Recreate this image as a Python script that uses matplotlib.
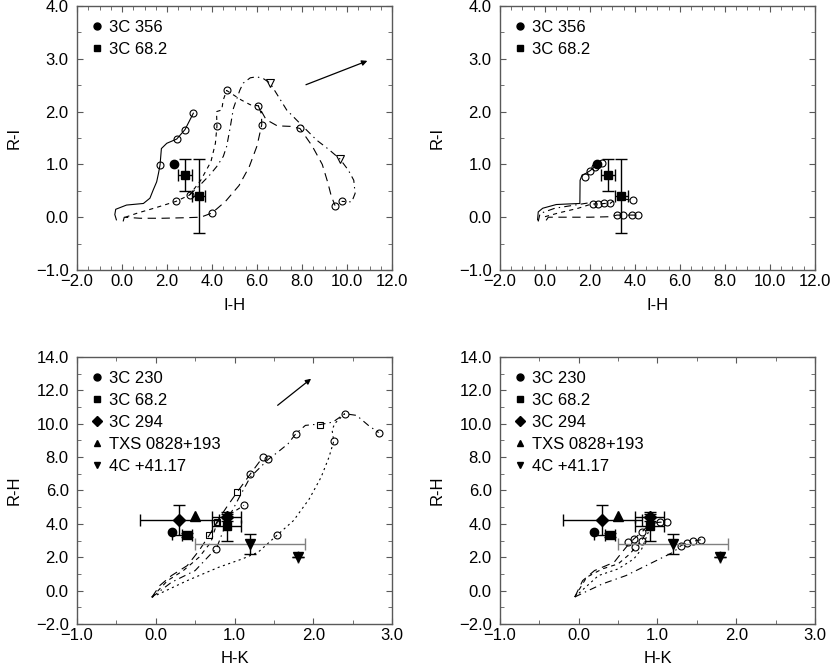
import matplotlib
matplotlib.use('Agg')
import matplotlib.pyplot as plt
from matplotlib.lines import Line2D
from matplotlib.ticker import MultipleLocator, FuncFormatter

plt.rcParams['font.family'] = ['Liberation Sans', 'DejaVu Sans']
plt.rcParams['font.size'] = 12
plt.rcParams['lines.scale_dashes'] = False

# ---------------- top panels: R-I against I-H ----------------
src356_ih = [2.3]
src356_ri = [1.0]
src682_ih = [2.8, 3.4]
src682_ri = [0.8, 0.4]
src682_ih_err = [0.33, 0.28]
src682_ri_err = [0.3, 0.7]

# model tracks, left panel
tl_solid_x = [-0.25, -0.32, -0.28, 0.2, 0.95, 1.24, 1.39, 1.54, 1.62, 1.69, 1.75, 1.99, 2.43, 2.8, 3.17]
tl_solid_y = [-0.05, 0.05, 0.15, 0.23, 0.26, 0.36, 0.52, 0.67, 0.83, 0.99, 1.30, 1.40, 1.48, 1.66, 1.97]
tl_short_x = [0.15, 0.7, 1.5, 2.4, 3.0, 3.5, 3.95, 4.15, 4.22, 4.2, 4.43, 4.5, 4.65, 5.3, 5.7, 6.06]
tl_short_y = [0.0, 0.08, 0.18, 0.3, 0.42, 0.7, 1.05, 1.4, 1.73, 2.0, 2.03, 2.22, 2.4, 2.22, 2.13, 2.11]
tl_long_x = [0.05, 0.1, 0.8, 1.8, 2.8, 3.5, 4.0, 4.6, 5.2, 5.65, 6.0, 6.21, 6.2, 6.06, 6.4, 6.9, 7.5, 7.91, 8.45, 8.9, 9.15, 9.3, 9.47]
tl_long_y = [-0.08, 0.0, -0.02, -0.02, -0.01, 0.0, 0.08, 0.3, 0.6, 0.95, 1.35, 1.75, 1.95, 2.11, 1.85, 1.73, 1.72, 1.68, 1.35, 1.0, 0.65, 0.4, 0.22]
tl_dashdot_x = [3.0, 3.47, 3.9, 4.21, 4.5, 4.65, 4.8, 4.95, 5.24, 5.39, 5.7, 5.99, 6.3, 6.58, 7.32, 7.9, 8.65, 9.2, 9.69, 10.06, 10.3, 10.36, 10.21, 9.76]
tl_dashdot_y = [0.42, 0.61, 0.8, 0.96, 1.15, 1.34, 1.68, 2.06, 2.41, 2.54, 2.64, 2.66, 2.62, 2.54, 2.03, 1.78, 1.46, 1.28, 1.1, 0.89, 0.7, 0.45, 0.29, 0.3]
tl_circ_x = [1.69, 2.43, 2.8, 3.17, 2.4, 3.0, 4.22, 4.65, 6.06, 4.0, 6.21, 7.91, 9.47, 9.76]
tl_circ_y = [0.99, 1.48, 1.66, 1.97, 0.3, 0.42, 1.73, 2.4, 2.11, 0.08, 1.75, 1.68, 0.22, 0.3]
tl_tri_x = [6.58, 9.69]
tl_tri_y = [2.54, 1.1]
tl_arrow = [(8.06, 2.49), (11.02, 2.98)]

# model tracks, right panel
tr_solid_x = [-0.33, -0.3, -0.1, 0.5, 1.0, 1.55, 1.56, 1.65, 1.78, 2.0, 2.22, 2.45]
tr_solid_y = [-0.05, 0.1, 0.17, 0.24, 0.25, 0.26, 0.70, 0.8, 0.82, 0.88, 0.96, 1.03]
tr_short_x = [0.0, 0.6, 1.48, 2.07, 2.15, 2.37, 2.64, 2.89, 3.11, 3.5, 3.93]
tr_short_y = [0.01, 0.08, 0.17, 0.25, 0.25, 0.25, 0.26, 0.26, 0.33, 0.34, 0.33]
tr_long_x = [0.05, 0.15, 1.0, 2.0, 2.96, 3.19, 3.48, 3.85, 4.15]
tr_long_y = [-0.06, 0.0, 0.0, 0.0, 0.01, 0.04, 0.04, 0.04, 0.04]
tr_dot_x = [-0.3, -0.22, 0.44, 1.33, 2.07]
tr_dot_y = [-0.08, 0.07, 0.17, 0.23, 0.28]
tr_circ_x = [1.78, 2.0, 2.22, 2.55, 2.15, 2.37, 2.64, 2.89, 3.93, 3.19, 3.48, 3.85, 4.15]
tr_circ_y = [0.77, 0.88, 0.96, 1.02, 0.25, 0.25, 0.26, 0.26, 0.33, 0.04, 0.04, 0.04, 0.04]

# ---------------- bottom panels: R-H against H-K ----------------
src230_hk = [0.2]
src230_rh = [3.5]
src230_rh_err = [0.45]
srcb682_hk = [0.4, 0.9]
srcb682_rh = [3.35, 3.85]
srcb682_hk_err = [0.065, 0.18]
srcb682_rh_err = [0.12, 0.85]
src294_hk = [0.3, 0.9]
src294_rh = [4.25, 4.4]
src294_hk_err = [0.5, 0.18]
src294_rh_err = [0.9, 0.2]
txs_hk = [0.5]
txs_rh = [4.45]
src4c_hk = [1.2, 1.8]
src4c_rh = [2.8, 2.0]
src4c_hk_err = [0.7, 0.0]
src4c_rh_err = [0.6, 0.0]

bl_t1_x = [-0.05, 0.05, 0.2, 0.4, 0.55, 0.68, 0.8, 0.9, 1.03, 1.2, 1.36]
bl_t1_y = [-0.4, 0.3, 0.9, 1.5, 2.4, 3.32, 4.3, 5.0, 5.88, 6.98, 8.0]
bl_t2_x = [-0.05, 0.15, 0.35, 0.55, 0.7, 0.78, 0.95, 1.12]
bl_t2_y = [-0.4, 0.6, 1.2, 2.0, 2.9, 4.1, 4.6, 5.11]
bl_t3_x = [-0.05, 0.2, 0.5, 0.6, 0.7, 0.77, 0.85, 0.95, 1.05, 1.2, 1.43, 1.55, 1.68, 1.78, 1.9, 2.0, 2.09, 2.25, 2.4, 2.55, 2.7, 2.83]
bl_t3_y = [-0.4, 0.5, 1.2, 1.7, 2.2, 2.52, 3.5, 4.6, 5.5, 6.8, 7.87, 8.3, 8.8, 9.41, 9.9, 9.95, 9.95, 10.1, 10.6, 10.5, 9.9, 9.47]
bl_t4_x = [-0.05, 0.4, 0.8, 1.1, 1.3, 1.54, 1.75, 1.95, 2.1, 2.2, 2.26, 2.24, 2.27, 2.4]
bl_t4_y = [-0.4, 0.6, 1.4, 1.9, 2.3, 3.32, 4.2, 5.5, 6.8, 8.0, 8.95, 9.6, 10.0, 10.6]
bl_circ_x = [1.2, 1.36, 1.43, 1.78, 2.4, 2.83, 2.26, 1.54, 0.77, 1.12]
bl_circ_y = [6.98, 8.0, 7.87, 9.41, 10.6, 9.47, 8.95, 3.32, 2.52, 5.11]
bl_sq_x = [0.68, 1.03, 2.09, 0.78]
bl_sq_y = [3.32, 5.88, 9.95, 4.1]
bl_arrow = [(1.52, 11.0), (2.0, 12.8)]

br_t1_x = [-0.05, 0.05, 0.2, 0.45, 0.55, 0.62, 0.7, 0.8, 0.9, 1.03, 1.12]
br_t1_y = [-0.38, 0.6, 1.2, 1.7, 2.3, 2.7, 3.1, 3.5, 4.0, 4.1, 4.1]
br_t2_x = [-0.05, 0.3, 0.6, 0.9, 1.2, 1.3, 1.38, 1.45, 1.55]
br_t2_y = [-0.38, 0.4, 0.9, 1.6, 2.3, 2.7, 2.85, 2.95, 3.05]
br_t3_x = [-0.05, 0.1, 0.3, 0.5, 0.65, 0.72, 0.8, 0.85]
br_t3_y = [-0.38, 0.8, 1.3, 1.6, 2.2, 2.6, 3.0, 3.4]
br_t4_x = [-0.05, 0.25, 0.5, 0.7, 0.8, 0.85, 0.9]
br_t4_y = [-0.38, 0.9, 1.3, 1.9, 2.5, 3.1, 3.7]
br_circ_x = [0.7, 0.8, 1.03, 1.12, 1.3, 1.38, 1.45, 1.55, 0.72, 0.8, 0.62]
br_circ_y = [3.1, 3.5, 4.1, 4.1, 2.7, 2.85, 2.95, 3.05, 2.6, 3.0, 2.9]

fig = plt.figure(figsize=(8.3, 6.67), dpi=100)
w = 0.3795
ax_tl = fig.add_axes([0.0928, 0.5952, w, 0.3958])
ax_tr = fig.add_axes([0.6024, 0.5952, w, 0.3958])
ax_bl = fig.add_axes([0.0928, 0.0645, w, 0.4003])
ax_br = fig.add_axes([0.6024, 0.0645, w, 0.4003])

fmt = FuncFormatter(lambda v, p: f'{v:.1f}'.replace('-', '\u2212'))
DASH_LONG = (0, (6, 4))
DASH_SHORT = (0, (3, 3))
DASH_DOT = (0, (5, 3, 1, 3))
DOTTED = (0, (1.5, 2.5))


def style(ax, xlim, ylim, xmaj, xmin, ymaj, xlabel, ylabel):
    ax.set_xlim(*xlim)
    ax.set_ylim(*ylim)
    ax.xaxis.set_major_locator(MultipleLocator(xmaj))
    ax.xaxis.set_minor_locator(MultipleLocator(xmin))
    ax.yaxis.set_major_locator(MultipleLocator(ymaj))
    ax.yaxis.set_minor_locator(MultipleLocator(ymaj / 2))
    ax.xaxis.set_major_formatter(fmt)
    ax.yaxis.set_major_formatter(fmt)
    ax.tick_params(which='both', direction='in', top=True, right=True, color='0.35')
    ax.tick_params(which='major', length=4.5)
    ax.tick_params(which='minor', length=3)
    ax.tick_params(axis='x', pad=3)
    ax.tick_params(axis='y', pad=6)
    for s in ax.spines.values():
        s.set_color('0.35')
        s.set_linewidth(1.0)
    ax.set_xlabel(xlabel, labelpad=6)
    ax.set_ylabel(ylabel, labelpad=10)


def tracks(ax, lines, circ, lw=0.8):
    for (x, y), ls in lines:
        ax.plot(x, y, color='k', lw=lw, ls=ls)
    ax.plot(circ[0], circ[1], ls='none', marker='o', ms=5, mfc='none', mec='k', mew=0.8)


def legend(ax, entries):
    handles = [Line2D([], [], ls='none', marker=m, color='k', ms=5) for m, _ in entries]
    ax.legend(handles, [t for _, t in entries], loc='upper left', frameon=False,
              handlelength=0.7, handletextpad=0.35, labelspacing=0.42,
              borderaxespad=0.35, borderpad=0.5, fontsize=12)


def top_points(ax):
    ax.plot(src356_ih, src356_ri, ls='none', marker='o', color='k', ms=6)
    ax.errorbar(src682_ih, src682_ri, xerr=src682_ih_err, yerr=src682_ri_err,
                fmt='s', color='k', ms=6, capsize=4, elinewidth=1, capthick=1)
    legend(ax, [('o', '3C 356'), ('s', '3C 68.2')])


def bottom_points(ax):
    ax.errorbar(src230_hk, src230_rh, yerr=[src230_rh_err, [0.0]], fmt='o', color='k', ms=6,
                capsize=0, elinewidth=1)
    ax.errorbar(srcb682_hk, srcb682_rh, xerr=srcb682_hk_err, yerr=srcb682_rh_err,
                fmt='s', color='k', ms=6, capsize=4, elinewidth=1, capthick=1)
    ax.errorbar(src294_hk, src294_rh, xerr=src294_hk_err, yerr=src294_rh_err,
                fmt='D', color='k', ms=6, capsize=4, elinewidth=1, capthick=1)
    ax.plot(txs_hk, txs_rh, ls='none', marker='^', color='k', ms=7)
    ax.errorbar(src4c_hk, src4c_rh, xerr=src4c_hk_err, fmt='none', ecolor='0.5',
                capsize=4, elinewidth=1, capthick=1)
    ax.errorbar(src4c_hk, src4c_rh, yerr=src4c_rh_err, fmt='v', color='k', ms=7,
                capsize=4, elinewidth=1, capthick=1)
    legend(ax, [('o', '3C 230'), ('s', '3C 68.2'), ('D', '3C 294'),
                ('^', 'TXS 0828+193'), ('v', '4C +41.17')])


# top left
style(ax_tl, (-2, 12), (-1, 4), 2, 0.5, 1, 'I-H', 'R-I')
tracks(ax_tl, [((tl_solid_x, tl_solid_y), '-'), ((tl_short_x, tl_short_y), DASH_SHORT),
               ((tl_long_x, tl_long_y), DASH_LONG), ((tl_dashdot_x, tl_dashdot_y), DASH_DOT)],
       (tl_circ_x, tl_circ_y))
ax_tl.plot(tl_tri_x, tl_tri_y, ls='none', marker='v', ms=6, mfc='none', mec='k', mew=0.8)
ax_tl.annotate('', xy=tl_arrow[1], xytext=tl_arrow[0],
               arrowprops=dict(arrowstyle='-|>', color='k', lw=0.9, mutation_scale=8))
top_points(ax_tl)

# top right
style(ax_tr, (-2, 12), (-1, 4), 2, 0.5, 1, 'I-H', 'R-I')
tracks(ax_tr, [((tr_solid_x, tr_solid_y), '-'), ((tr_short_x, tr_short_y), DASH_SHORT),
               ((tr_long_x, tr_long_y), DASH_LONG), ((tr_dot_x, tr_dot_y), DASH_DOT)],
       (tr_circ_x, tr_circ_y))
top_points(ax_tr)

# bottom left
style(ax_bl, (-1, 3), (-2, 14), 1, 0.5, 2, 'H-K', 'R-H')
tracks(ax_bl, [((bl_t1_x, bl_t1_y), DASH_LONG), ((bl_t2_x, bl_t2_y), DASH_SHORT),
               ((bl_t3_x, bl_t3_y), DASH_DOT), ((bl_t4_x, bl_t4_y), DOTTED)],
       (bl_circ_x, bl_circ_y))
ax_bl.plot(bl_sq_x, bl_sq_y, ls='none', marker='s', ms=5, mfc='none', mec='k', mew=0.8)
ax_bl.annotate('', xy=bl_arrow[1], xytext=bl_arrow[0],
               arrowprops=dict(arrowstyle='-|>', color='k', lw=0.9, mutation_scale=8))
bottom_points(ax_bl)

# bottom right
style(ax_br, (-1, 3), (-2, 14), 1, 0.5, 2, 'H-K', 'R-H')
tracks(ax_br, [((br_t1_x, br_t1_y), DASH_LONG), ((br_t2_x, br_t2_y), DASH_DOT),
               ((br_t3_x, br_t3_y), DASH_SHORT), ((br_t4_x, br_t4_y), DOTTED)],
       (br_circ_x, br_circ_y))
bottom_points(ax_br)

fig.savefig('out.png', dpi=100)
